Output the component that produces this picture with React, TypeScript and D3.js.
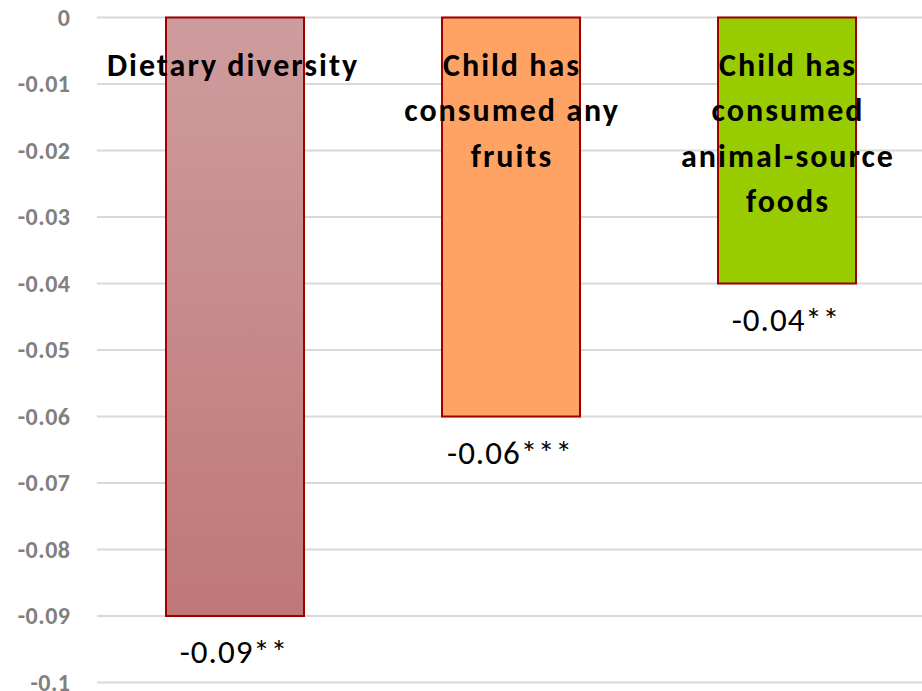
import React from "react";
import * as d3 from "d3";

const categories = ["Dietary diversity", "Child has consumed any fruits", "Child has consumed animal-source foods"];
const labelLines = [["Dietary diversity"], ["Child has", "consumed any", "fruits"], ["Child has", "consumed", "animal-source", "foods"]];
const values = [-0.09, -0.06, -0.04];
const valueLabels = ["-0.09**", "-0.06***", "-0.04**"];
const yTicks = [0, -0.01, -0.02, -0.03, -0.04, -0.05, -0.06, -0.07, -0.08, -0.09, -0.1];
const yTickLabels = ["0", "-0.01", "-0.02", "-0.03", "-0.04", "-0.05", "-0.06", "-0.07", "-0.08", "-0.09", "-0.1"];

const W = 922, H = 691;
const FONT = "Carlito, Lato, 'Open Sans', sans-serif";

export default function App() {
  const y = d3.scaleLinear().domain([0, -0.1]).range([17.5, 682.5]);
  const x = d3.scaleBand().domain(categories).range([97, 925]).paddingInner(0.5).paddingOuter(0.25);
  const fills = ["url(#g1)", "#FFA365", "#99CC00"];
  const labelDx = [-3, 0, 0];
  return (
    <svg width={W} height={H} style={{ position: "absolute", left: 0, top: 0, background: "#fff" }}>
      <defs>
        <linearGradient id="g1" x1="0" y1="0" x2="0" y2="1">
          <stop offset="0" stopColor="#CF9C9D" />
          <stop offset="1" stopColor="#BE7877" />
        </linearGradient>
      </defs>
      {yTicks.map((t, i) => (
        <g key={t}>
          <line x1={97} x2={922} y1={y(t)} y2={y(t)} stroke="#D9D9D9" strokeWidth={2} />
          <text x={70.5} y={y(t) + 8} textAnchor="end" fontFamily={FONT} fontWeight="bold" fontSize={24} letterSpacing={0.5} fill="#808080">
            {yTickLabels[i]}
          </text>
        </g>
      ))}
      {categories.map((c, i) => {
        const x0 = x(c)!;
        const bw = x.bandwidth();
        return (
          <g key={c}>
            <rect x={x0} y={y(0)} width={bw} height={y(values[i]) - y(0)} fill={fills[i]} stroke="#A00000" strokeWidth={2} />
          </g>
        );
      })}
      {categories.map((c, i) => {
        const cx = x(c)! + x.bandwidth() / 2;
        return (
          <g key={c + "l"}>
            {labelLines[i].map((ln, j) => (
              <text key={j} x={cx + labelDx[i] + 1} y={75.5 + j * 45.5} textAnchor="middle" fontFamily={FONT} fontWeight="bold" fontSize={32} letterSpacing={2} fill="#000">
                {ln}
              </text>
            ))}
            <text x={cx - 1} y={y(values[i]) + 47} textAnchor="middle" fontFamily={FONT} fontSize={33} letterSpacing={1} fill="#000">
              {valueLabels[i]}
            </text>
          </g>
        );
      })}
    </svg>
  );
}
